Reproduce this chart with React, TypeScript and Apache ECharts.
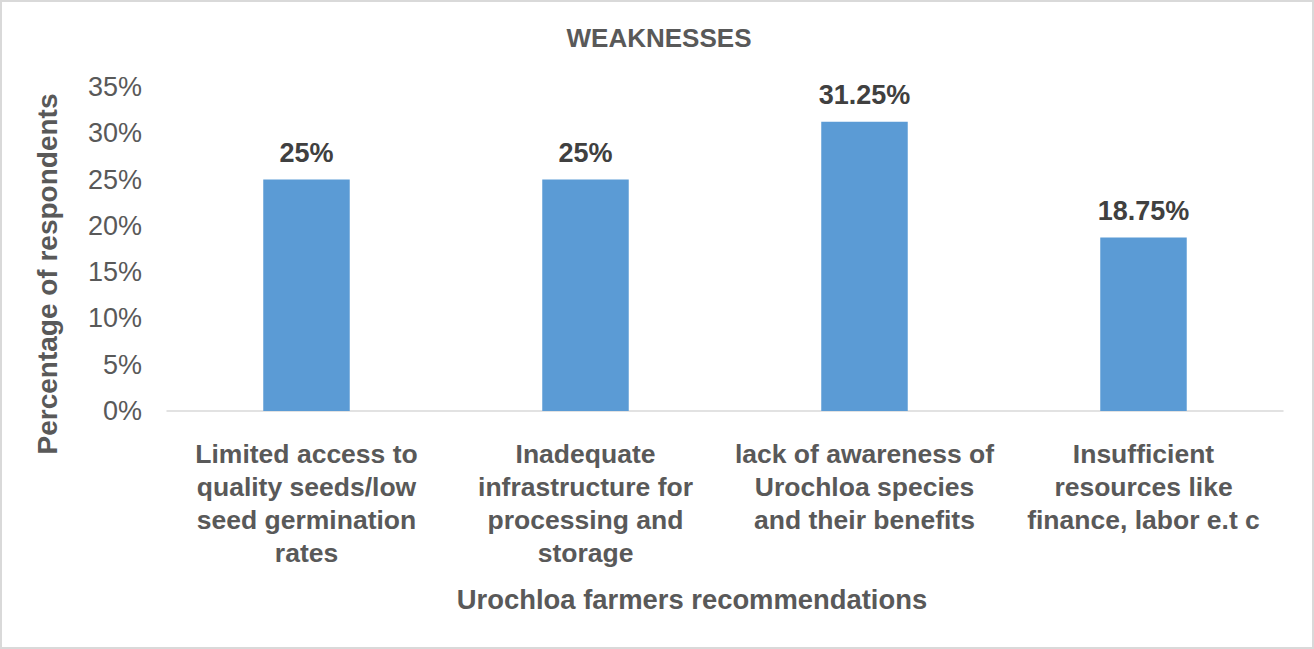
import React, { useEffect, useRef } from "react";
import * as echarts from "echarts";

const categories = [
  "Limited access to\nquality seeds/low\nseed germination\nrates",
  "Inadequate\ninfrastructure for\nprocessing and\nstorage",
  "lack of awareness of\nUrochloa species\nand their benefits",
  "Insufficient\nresources like\nfinance, labor e.t c",
];
const values = [25, 25, 31.25, 18.75];
const chartTitle = "WEAKNESSES";
const xAxisTitle = "Urochloa farmers recommendations";
const yAxisTitle = "Percentage of respondents";

const FONT = "'Liberation Sans', Arial, sans-serif";

export default function App() {
  const ref = useRef<HTMLDivElement>(null);
  useEffect(() => {
    document.body.style.margin = "0";
    const chart = echarts.init(ref.current!, null, { renderer: "svg" });
    chart.setOption({
      animation: false,
      backgroundColor: "#ffffff",
      grid: { left: 167, right: 31, top: 87, bottom: 238, containLabel: false },
      xAxis: {
        type: "category",
        data: categories,
        axisLine: { lineStyle: { color: "#d9d9d9", width: 1.5 } },
        axisTick: { show: false },
        axisLabel: {
          interval: 0,
          margin: 26,
          fontSize: 26.5,
          fontWeight: "bold",
          lineHeight: 33,
          color: "#595959",
          fontFamily: FONT,
        },
      },
      yAxis: {
        type: "value",
        min: 0,
        max: 35,
        interval: 5,
        axisLine: { show: false },
        axisTick: { show: false },
        splitLine: { show: false },
        axisLabel: {
          formatter: "{value}%",
          margin: 25,
          fontSize: 27,
          color: "#595959",
          fontFamily: FONT,
        },
      },
      series: [
        {
          type: "bar",
          data: values,
          barWidth: "31%",
          itemStyle: { color: "#5b9bd5" },
          label: {
            show: true,
            position: "top",
            distance: 13,
            formatter: (p: any) => p.value + "%",
            fontSize: 27,
            fontWeight: "bold",
            color: "#404040",
            fontFamily: FONT,
          },
        },
      ],
      graphic: [
        {
          type: "rect",
          shape: { x: 1, y: 1, width: 1312, height: 647 },
          style: { fill: "none", stroke: "#d9d9d9", lineWidth: 2 },
          silent: true,
        },
        {
          type: "text",
          x: 659,
          y: 38,
          style: {
            text: chartTitle,
            fontSize: 26,
            fontWeight: "bold",
            fill: "#595959",
            fontFamily: FONT,
            textAlign: "center",
            textVerticalAlign: "middle",
          },
        },
        {
          type: "text",
          x: 692,
          y: 599,
          style: {
            text: xAxisTitle,
            fontSize: 27.4,
            fontWeight: "bold",
            fill: "#595959",
            fontFamily: FONT,
            textAlign: "center",
            textVerticalAlign: "middle",
          },
        },
        {
          type: "text",
          x: 47,
          y: 274,
          rotation: Math.PI / 2,
          style: {
            text: yAxisTitle,
            fontSize: 28,
            fontWeight: "bold",
            fill: "#595959",
            fontFamily: FONT,
            textAlign: "center",
            textVerticalAlign: "middle",
          },
        },
      ],
    });
    return () => chart.dispose();
  }, []);
  return <div ref={ref} style={{ width: 1314, height: 649 }} />;
}
